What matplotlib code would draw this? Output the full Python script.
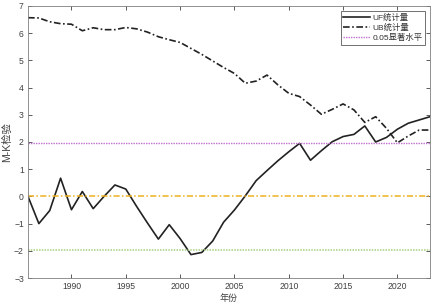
import numpy as np
import matplotlib
matplotlib.use("Agg")
import matplotlib.pyplot as plt

plt.rcParams['font.family'] = ['Liberation Sans', 'Noto Sans CJK SC', 'DejaVu Sans']

# années et statistiques M-K
annees = list(range(1986, 2024))
uf = [0.0, -1.0, -0.52, 0.67, -0.49, 0.18, -0.45, 0.0, 0.42, 0.27,
      -0.37, -0.98, -1.57, -1.04, -1.55, -2.14, -2.06, -1.64, -0.95, -0.50,
      0.02, 0.58, 0.95, 1.31, 1.64, 1.95, 1.33, 1.68, 2.01, 2.20,
      2.28, 2.59, 2.00, 2.17, 2.47, 2.69, 2.81, 2.93]
ub = [6.57, 6.56, 6.42, 6.35, 6.33, 6.09, 6.20, 6.13, 6.13, 6.21,
      6.16, 6.04, 5.87, 5.76, 5.66, 5.44, 5.22, 4.98, 4.74, 4.52,
      4.16, 4.24, 4.46, 4.10, 3.79, 3.67, 3.36, 3.02, 3.20, 3.40,
      3.18, 2.72, 2.93, 2.50, 1.97, 2.22, 2.44, 2.44]
seuil = 1.96

gris = "#404040"

fig = plt.figure(figsize=(4.33, 3.07), dpi=100)
ax = fig.add_axes([28 / 433, 1 - 278 / 307, 402 / 433, 272 / 307])

ax.plot(annees, uf, color="#222222", lw=1.2, label="UF统计量")
ax.plot(annees, ub, color="#222222", lw=1.2, ls=(0, (4, 1.5, 1, 1.5)), label="UB统计量")
ax.axhline(seuil, color="#c070d0", lw=1.0, ls=(0, (1, 0.8)), label="0.05显著水平")
ax.axhline(0, color="#edb120", lw=1.1, ls=(0, (4, 1.5, 1, 1.5)))
ax.axhline(-seuil, color="#a8d080", lw=1.1, ls=(0, (1, 0.8)))

ax.set_xlim(1986, 2023)
ax.set_ylim(-3, 7)
ax.set_xticks([1990, 1995, 2000, 2005, 2010, 2015, 2020])
ax.set_yticks(range(-3, 8))

ax.tick_params(direction="in", length=3, width=0.6, labelsize=6.2, colors=gris,
               top=True, right=True, pad=3)
for s in ax.spines.values():
    s.set_color("#808080")
    s.set_linewidth(0.6)

ax.set_xlabel("年份", fontsize=6.5, color=gris, labelpad=2)
ax.set_ylabel("M-K检验", fontsize=7.5, color=gris, labelpad=1)

leg = ax.legend(loc="upper right", fontsize=6, frameon=True, fancybox=False,
                edgecolor="#303030", handlelength=3.2, handletextpad=0.3,
                borderpad=0.3, labelspacing=0.25, borderaxespad=0.6)
leg.get_frame().set_linewidth(0.6)
for t in leg.get_texts():
    t.set_color("#303030")

fig.savefig("out.png", dpi=100)
